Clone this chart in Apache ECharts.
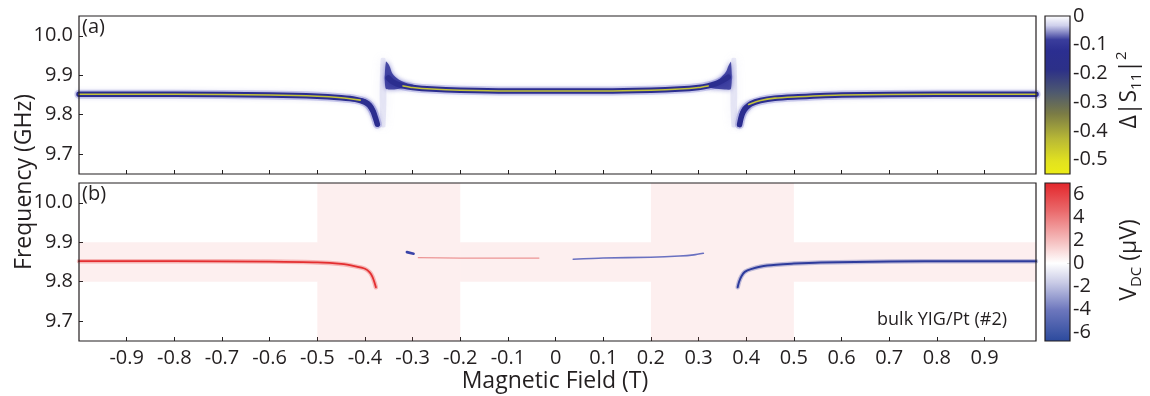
<!DOCTYPE html>
<html>
<head>
<meta charset="utf-8">
<script src="https://cdn.jsdelivr.net/npm/echarts@6/dist/echarts.min.js"></script>
<style>
  html, body { margin: 0; padding: 0; background: #ffffff; }
  #chart { width: 1150px; height: 396px; }
</style>
</head>
<body>
<div id="chart"></div>
<script>
const FONT = '"Open Sans", "Noto Sans", sans-serif';
const INK = '#231f20';

// ---- axes ----
const fieldMin = -1.0, fieldMax = 1.008;
const freqMin = 9.65, freqMax = 10.05;
const fieldTicks = [-0.9, -0.8, -0.7, -0.6, -0.5, -0.4, -0.3, -0.2, -0.1, 0, 0.1, 0.2, 0.3, 0.4, 0.5, 0.6, 0.7, 0.8, 0.9];
const freqTicks = [9.7, 9.8, 9.9, 10.0];
const s11Ticks = [0, -0.1, -0.2, -0.3, -0.4, -0.5];
const vdcTicks = [6, 4, 2, 0, -2, -4, -6];

// ---- (a) reflection dip, field (T) vs frequency (GHz) ----
const s11Left = [[-1.0, 9.852], [-0.8, 9.852], [-0.6, 9.850], [-0.5, 9.847], [-0.45, 9.843], [-0.42, 9.839],
  [-0.40, 9.832], [-0.39, 9.823], [-0.383, 9.809], [-0.378, 9.792], [-0.374, 9.776]];
const s11Mid = [[-0.351, 9.893], [-0.343, 9.884], [-0.333, 9.878], [-0.32, 9.873], [-0.30, 9.869], [-0.26, 9.865],
  [-0.2, 9.862], [-0.1, 9.860], [0, 9.860], [0.1, 9.860], [0.2, 9.862], [0.26, 9.865], [0.30, 9.869],
  [0.32, 9.873], [0.335, 9.878], [0.348, 9.885], [0.362, 9.895]];
const s11Right = [[0.386, 9.775], [0.389, 9.792], [0.393, 9.806], [0.40, 9.818], [0.41, 9.828], [0.43, 9.836],
  [0.46, 9.842], [0.5, 9.845], [0.6, 9.850], [0.8, 9.852], [1.008, 9.852]];
const s11CoreLeft = [[-1.0, 9.852], [-0.8, 9.852], [-0.6, 9.850], [-0.5, 9.847], [-0.45, 9.843], [-0.41, 9.837]];
const s11CoreMid = [[-0.32, 9.873], [-0.30, 9.869], [-0.26, 9.865], [-0.2, 9.862], [-0.1, 9.860], [0, 9.860],
  [0.1, 9.860], [0.2, 9.862], [0.26, 9.865], [0.30, 9.869], [0.32, 9.873]];
const s11CoreRight = [[0.405, 9.826], [0.43, 9.836], [0.46, 9.842], [0.5, 9.845], [0.6, 9.850], [0.8, 9.852], [1.008, 9.852]];
// broadened regions near the crossings (polygon vertices)
const s11Blobs = [
  [[-0.356, 9.934], [-0.349, 9.925], [-0.342, 9.904], [-0.330, 9.890], [-0.315, 9.881], [-0.298, 9.875],
    [-0.318, 9.868], [-0.345, 9.864], [-0.357, 9.868]],
  [[0.368, 9.934], [0.368, 9.866], [0.355, 9.864], [0.330, 9.867], [0.312, 9.874], [0.330, 9.881],
    [0.345, 9.892], [0.357, 9.908], [0.363, 9.925]],
  [[-0.408, 9.842], [-0.390, 9.832], [-0.378, 9.810], [-0.371, 9.768], [-0.382, 9.795], [-0.398, 9.826]],
  [[0.415, 9.832], [0.395, 9.822], [0.387, 9.805], [0.382, 9.768], [0.392, 9.798], [0.408, 9.820]]
];
const s11Haze = [
  [[-0.367, 9.942], [-0.357, 9.942], [-0.357, 9.770], [-0.367, 9.770]],
  [[0.369, 9.942], [0.379, 9.942], [0.379, 9.770], [0.369, 9.770]]
];

// ---- (b) DC voltage ----
const vdcPosBranch = [[-1.0, 9.852], [-0.8, 9.852], [-0.6, 9.851], [-0.5, 9.849], [-0.45, 9.845], [-0.42, 9.839],
  [-0.40, 9.833], [-0.39, 9.824], [-0.384, 9.812], [-0.380, 9.798], [-0.377, 9.786]];
const vdcPosWeak = [[-0.288, 9.861], [-0.2, 9.860], [-0.1, 9.860], [-0.035, 9.860]];
const vdcNegWeak = [[0.037, 9.857], [0.1, 9.860], [0.2, 9.862], [0.26, 9.865], [0.29, 9.868], [0.31, 9.872]];
const vdcNegDot = [[-0.312, 9.875], [-0.298, 9.871]];
const vdcNegBranch = [[0.382, 9.786], [0.385, 9.800], [0.390, 9.814], [0.397, 9.825], [0.41, 9.832], [0.444, 9.841],
  [0.5, 9.846], [0.556, 9.849], [0.7, 9.851], [0.85, 9.852], [1.008, 9.852]];
// pink background regions [field0, field1, freq0, freq1]
const vdcBackground = [[-1.0, -0.5, 9.80, 9.90], [-0.5, -0.2, 9.65, 10.05], [-0.2, 0.2, 9.80, 9.90],
  [0.2, 0.5, 9.65, 10.05], [0.5, 1.008, 9.80, 9.90]];

// ---- colour scales (offset from top of bar, colour) ----
const s11Stops = [[0, '#ffffff'], [0.06, '#cfd0ec'], [0.15, '#3a3d9c'], [0.22, '#2b2e90'], [0.34, '#2c3088'],
  [0.48, '#4d5870'], [0.62, '#7b7c45'], [0.78, '#b9b935'], [0.92, '#e2e21f'], [1, '#ecec16']];
const vdcStopsPos = [[0, '#e3262b'], [0.35, '#ea6a6c'], [0.75, '#f6c4c4'], [1, '#ffffff']];
const vdcStopsNeg = [[0, '#ffffff'], [0.25, '#c9cbe6'], [0.6, '#6d77bd'], [1, '#2c4a9d']];

function gradient(stops) {
  return new echarts.graphic.LinearGradient(0, 0, 0, 1, stops.map(s => ({ offset: s[0], color: s[1] })));
}

function line(data, gi, color, width, z, extra) {
  return {
    type: 'line', xAxisIndex: gi, yAxisIndex: gi, data: data, showSymbol: false, symbol: 'none',
    smooth: 0.25, silent: true, z: z, clip: true,
    lineStyle: Object.assign({ color: color, width: width, cap: 'round', join: 'round' }, extra || {})
  };
}

function polygons(polys, gi, style, z) {
  return {
    type: 'custom', xAxisIndex: gi, yAxisIndex: gi, silent: true, z: z, clip: true,
    data: polys.map(p => p[0]),
    renderItem: (params, api) => ({
      type: 'polygon',
      shape: { points: polys[params.dataIndex].map(p => api.coord(p)), smooth: 0.3 },
      style: Object.assign({}, style)
    })
  };
}

function rects(list, gi, style, z) {
  return {
    type: 'custom', xAxisIndex: gi, yAxisIndex: gi, silent: true, z: z, clip: true,
    data: list.map(r => [r[0], r[2]]),
    renderItem: (params, api) => {
      const r = list[params.dataIndex];
      const a = api.coord([r[0], r[3]]), b = api.coord([r[1], r[2]]);
      return { type: 'rect', shape: { x: a[0], y: a[1], width: b[0] - a[0], height: b[1] - a[1] }, style: Object.assign({}, style) };
    }
  };
}

const plotLeft = 79, plotWidth = 957, plotHeight = 158;
const grids = [
  { left: plotLeft, top: 16, width: plotWidth, height: plotHeight },
  { left: plotLeft, top: 183, width: plotWidth, height: plotHeight },
  { left: 1045, top: 16, width: 25, height: 158 },
  { left: 1045, top: 183, width: 25, height: 158 }
].map(g => Object.assign({ show: true, borderColor: INK, borderWidth: 1.2, backgroundColor: 'transparent', containLabel: false, z: 10 }, g));

function fieldAxis(gi, showLabels) {
  return {
    type: 'value', gridIndex: gi, min: fieldMin, max: fieldMax,
    axisLine: { show: false, onZero: false }, splitLine: { show: false },
    axisTick: { show: true, inside: true, length: 4, customValues: fieldTicks, lineStyle: { color: INK, width: 1 } },
    axisLabel: {
      show: showLabels, customValues: fieldTicks, fontFamily: FONT, fontSize: 20, color: INK, margin: 7,
      formatter: v => (Math.abs(v) < 1e-9 ? '0' : v.toFixed(1))
    }
  };
}
function freqAxis(gi) {
  return {
    type: 'value', gridIndex: gi, min: freqMin, max: freqMax,
    axisLine: { show: false, onZero: false }, splitLine: { show: false },
    axisTick: { show: true, inside: true, length: 4, customValues: freqTicks, lineStyle: { color: INK, width: 1 } },
    axisLabel: { customValues: freqTicks, fontFamily: FONT, fontSize: 20, color: INK, margin: 6, formatter: v => v.toFixed(1) }
  };
}
function barAxis(gi) {
  return { type: 'category', gridIndex: gi, data: ['c'], show: false, boundaryGap: false, axisLine: { onZero: false } };
}
function scaleAxis(gi, min, max, ticks, fmt) {
  return {
    type: 'value', gridIndex: gi, min: min, max: max, position: 'right',
    axisLine: { show: false, onZero: false }, splitLine: { show: false },
    axisTick: { show: true, inside: true, length: 3, customValues: ticks, lineStyle: { color: INK, width: 1 } },
    axisLabel: { customValues: ticks, fontFamily: FONT, fontSize: 20, color: INK, margin: 3, formatter: fmt }
  };
}

const haloStyle = { shadowBlur: 4, shadowColor: 'rgba(90,90,200,0.5)' };
const series = [
  // (a)
  polygons(s11Haze, 0, { fill: 'rgba(160,160,220,0.22)', shadowBlur: 10, shadowColor: 'rgba(160,160,220,0.6)' }, 1),
  line(s11Left, 0, 'rgba(90,90,195,0.28)', 9, 2, haloStyle),
  line(s11Mid, 0, 'rgba(90,90,195,0.28)', 9, 2, haloStyle),
  line(s11Right, 0, 'rgba(90,90,195,0.28)', 9, 2, haloStyle),
  polygons(s11Blobs, 0, { fill: '#2f3196', opacity: 0.85, shadowBlur: 5, shadowColor: 'rgba(60,60,180,0.7)' }, 3),
  line(s11Left, 0, '#2b2d8f', 5.5, 4),
  line(s11Mid, 0, '#2b2d8f', 5.5, 4),
  line(s11Right, 0, '#2b2d8f', 5.5, 4),
  line(s11CoreLeft, 0, '#c3c33a', 1.6, 5),
  line(s11CoreMid, 0, '#c3c33a', 1.6, 5),
  line(s11CoreRight, 0, '#c3c33a', 1.6, 5),
  // (b)
  rects(vdcBackground, 1, { fill: 'rgba(240,120,120,0.12)' }, 1),
  line(vdcPosBranch, 1, 'rgba(230,50,50,0.3)', 4.5, 3),
  line(vdcPosBranch, 1, '#e42e30', 1.8, 4),
  line(vdcPosWeak, 1, 'rgba(225,90,90,0.6)', 1.2, 4),
  line(vdcNegWeak, 1, 'rgba(80,90,185,0.85)', 1.6, 4),
  line(vdcNegDot, 1, '#3a44a8', 2.6, 4),
  line(vdcNegBranch, 1, 'rgba(45,60,160,0.3)', 4.5, 3),
  line(vdcNegBranch, 1, '#2e3b9c', 2, 4),
  // colour scales
  { type: 'bar', xAxisIndex: 2, yAxisIndex: 2, data: [-0.55], barWidth: '100%', silent: true,
    itemStyle: { color: gradient(s11Stops) } },
  { type: 'bar', xAxisIndex: 3, yAxisIndex: 3, data: [7.0], barWidth: '100%', barGap: '-100%', silent: true,
    itemStyle: { color: gradient(vdcStopsPos) } },
  { type: 'bar', xAxisIndex: 3, yAxisIndex: 3, data: [-6.8], barWidth: '100%', barGap: '-100%', silent: true,
    itemStyle: { color: gradient(vdcStopsNeg) } }
];

const chart = echarts.init(document.getElementById('chart'), null, { renderer: 'canvas' });
chart.setOption({
  animation: false,
  backgroundColor: '#ffffff',
  textStyle: { fontFamily: FONT },
  grid: grids,
  xAxis: [fieldAxis(0, false), fieldAxis(1, true), barAxis(2), barAxis(3)],
  yAxis: [freqAxis(0), freqAxis(1),
    scaleAxis(2, -0.55, 0, s11Ticks, v => (Math.abs(v) < 1e-9 ? '0' : v.toFixed(1))),
    scaleAxis(3, -6.8, 7.0, vdcTicks, v => String(v))],
  series: series,
  graphic: [
    { type: 'text', left: 82, top: 17, z: 20, style: { text: '(a)', font: '20px ' + FONT, fill: INK } },
    { type: 'text', left: 82, top: 184, z: 20, style: { text: '(b)', font: '20px ' + FONT, fill: INK } },
    { type: 'text', right: 143, top: 311, z: 20, style: { text: 'bulk YIG/Pt (#2)', font: '18px ' + FONT, fill: INK } },
    { type: 'text', x: 24, y: 182, rotation: Math.PI / 2,
      style: { text: 'Frequency (GHz)', font: '23px ' + FONT, fill: INK, align: 'center', verticalAlign: 'middle' } },
    { type: 'text', x: 555, y: 381,
      style: { text: 'Magnetic Field (T)', font: '23px ' + FONT, fill: INK, align: 'center', verticalAlign: 'middle' } },
    { type: 'text', x: 1129, y: 90, rotation: Math.PI / 2,
      style: {
        text: 'Δ|S{sub|11}|{sup|2}', fontFamily: FONT, fontSize: 23, fill: INK, align: 'center', verticalAlign: 'middle',
        lineHeight: 30,
        rich: {
          sub: { fontFamily: FONT, fontSize: 15, verticalAlign: 'bottom', lineHeight: 15, fill: INK },
          sup: { fontFamily: FONT, fontSize: 15, verticalAlign: 'top', lineHeight: 15, fill: INK }
        }
      } },
    { type: 'text', x: 1129, y: 260, rotation: Math.PI / 2,
      style: {
        text: 'V{sub|DC} (μV)', fontFamily: FONT, fontSize: 23, fill: INK, align: 'center', verticalAlign: 'middle',
        lineHeight: 30,
        rich: { sub: { fontFamily: FONT, fontSize: 15, verticalAlign: 'bottom', lineHeight: 15, fill: INK } }
      } }
  ]
});
</script>
</body>
</html>
